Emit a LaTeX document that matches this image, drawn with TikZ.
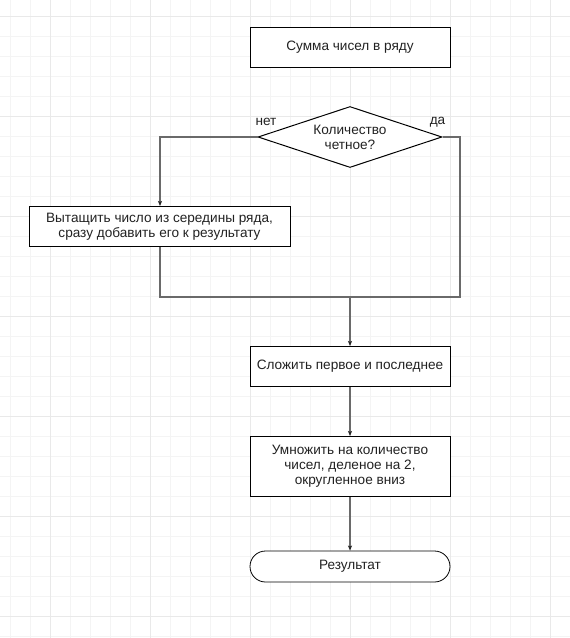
\documentclass[tikz,border=0pt]{standalone}
\usepackage{fontspec}
\setmainfont{Liberation Sans}
\usetikzlibrary{arrows.meta,shapes.geometric}
\definecolor{gridminor}{HTML}{F4F4F4}
\definecolor{gridmajor}{HTML}{E9E9E9}
\definecolor{wire}{HTML}{6A6A6A}
\definecolor{ink}{HTML}{222222}
\begin{document}
\begin{tikzpicture}[x=1pt,y=-1pt,
  every node/.style={font=\fontsize{13.6}{15}\selectfont, text=ink},
  procbox/.style={draw=black, line width=1pt, fill=white, inner sep=0pt, minimum width=200pt, minimum height=40pt, align=center},
  decision/.style={draw=black, line width=1pt, fill=white, diamond, aspect=3, inner sep=0pt, minimum width=184pt, minimum height=61pt, align=center},
  terminal/.style={draw=black, line width=0.8pt, fill=white, rounded corners=15.5pt, inner sep=0pt, minimum width=200pt, minimum height=31pt},
  link/.style={draw=wire, line width=1.2pt},
  arrowlink/.style={link, -{Stealth[length=5pt,width=4pt,inset=1pt,color=black!85]}},
  branch/.style={font=\fontsize{13.6}{15}\selectfont, inner sep=0pt}
]
% canvas and grid
\useasboundingbox (0,0) rectangle (570,638);
\fill[white] (0,0) rectangle (570,638);
\foreach \x in {10,30,...,570} \draw[gridminor, line width=1pt] (\x,0) -- (\x,638);
\foreach \y in {16.7,36.7,...,638} \draw[gridminor, line width=1pt] (0,\y) -- (570,\y);
\foreach \x in {50,150,...,550} \draw[gridmajor, line width=1pt] (\x,0) -- (\x,638);
\foreach \y in {16.7,116.7,...,638} \draw[gridmajor, line width=1pt] (0,\y) -- (570,\y);

% flowchart blocks
\node[procbox] (title) at (350,47) {Сумма чисел в ряду};
\node[decision] (even) at (350,137) {Количество\\четное?};
\node[procbox, minimum width=261pt] (middle) at (159.5,226.5) {Вытащить число из середины ряда,\\ сразу добавить его к результату};
\node[procbox] (sum) at (350,366.5) {Сложить первое и последнее};
\node[procbox, minimum height=60pt] (mult) at (350,466.5) {Умножить на количество\\чисел, деленое на 2,\\округленное вниз};
\node[terminal] (result) at (350,566.5) {Результат};

% junction points
\coordinate (leftturn) at (160,137);
\coordinate (rightturn) at (460,137);
\coordinate (rightdown) at (460,297);
\coordinate (leftdown) at (160,297);
\coordinate (merge) at (350,297);

% branch labels
\node[branch] (no) at (266,122) {нет};
\node[branch] (yes) at (437.5,122) {да};

% connectors
\draw[arrowlink] (even.west) -- (leftturn) -- (middle.north -| leftturn);
\draw[link] (even.east) -- (rightturn) -- (rightdown) -- (merge);
\draw[link] (middle.south -| leftdown) -- (leftdown) -- (merge);
\draw[arrowlink] (merge) -- (sum.north);
\draw[arrowlink] (sum.south) -- (mult.north);
\draw[arrowlink] (mult.south) -- (result.north);
\end{tikzpicture}
\end{document}
